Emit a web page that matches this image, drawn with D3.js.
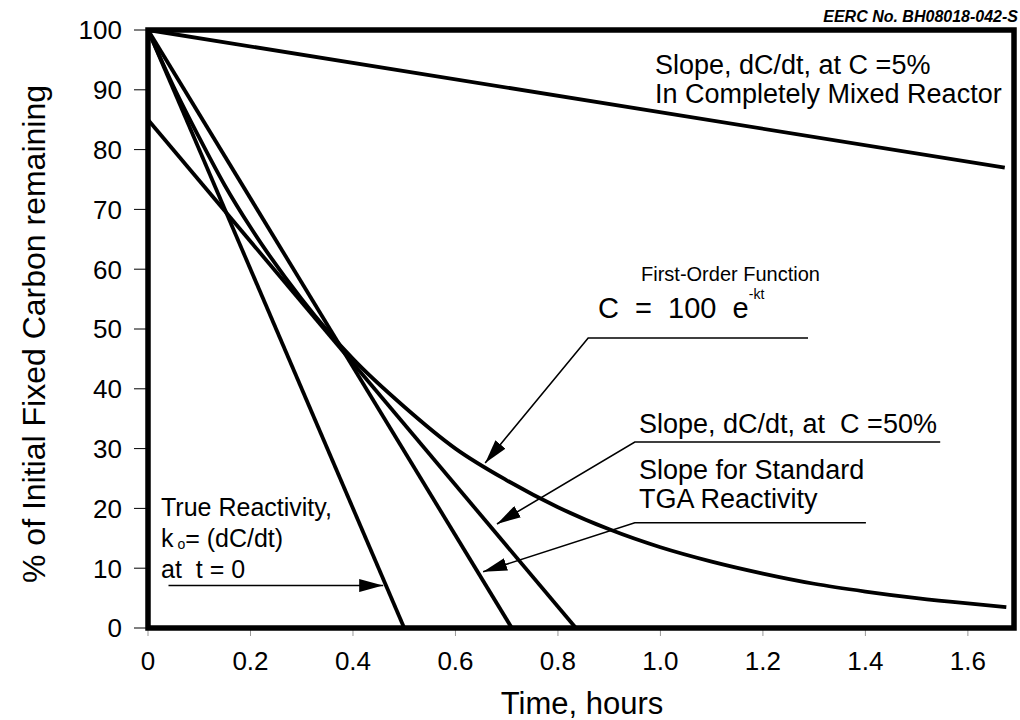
<!DOCTYPE html>
<html>
<head>
<meta charset="utf-8">
<script src="https://cdn.jsdelivr.net/npm/d3@7"></script>
<style>
  body { margin: 0; background: #fff; }
  svg { display: block; font-family: "Liberation Sans", Arial, sans-serif; }
</style>
</head>
<body>
<svg id="chart" width="1020" height="720"></svg>
<script>
// first-order curve
const curveTime = [0, 0.05, 0.1, 0.15, 0.2, 0.3, 0.4, 0.5, 0.6, 0.7, 0.8, 0.9, 1.0, 1.1, 1.2, 1.3, 1.4, 1.5, 1.6, 1.675];
const curveCarbon = [100, 90.5, 82, 74, 67, 55, 45, 37, 30, 24.7, 20.2, 16.5, 13.5, 11.1, 9.1, 7.4, 6.1, 5.0, 4.1, 3.5];

// straight slope lines
const trueTime = [0, 0.5], trueCarbon = [100, 0];
const tgaTime = [0, 0.71], tgaCarbon = [100, 0];
const slope50Time = [0, 0.835], slope50Carbon = [85, 0];
const slope5Time = [0, 1.672], slope5Carbon = [100, 77];

const xTicks = [0, 0.2, 0.4, 0.6, 0.8, 1.0, 1.2, 1.4, 1.6];
const xTickLabels = ['0', '0.2', '0.4', '0.6', '0.8', '1.0', '1.2', '1.4', '1.6'];
const yTicks = [0, 10, 20, 30, 40, 50, 60, 70, 80, 90, 100];

const svg = d3.select('#chart');

const x = d3.scaleLinear().domain([0, 1.69]).range([148, 1014]);
const y = d3.scaleLinear().domain([0, 100]).range([628, 30]);

// arrowhead
svg.append('defs').append('marker')
    .attr('id', 'arrow')
    .attr('markerUnits', 'userSpaceOnUse')
    .attr('viewBox', '0 0 24 13')
    .attr('refX', 24).attr('refY', 6.5)
    .attr('markerWidth', 24).attr('markerHeight', 13)
    .attr('orient', 'auto')
    .append('path')
    .attr('d', 'M0,0 L24,6.5 L0,13 Z')
    .attr('fill', '#000');

// y axis ticks + labels
const yAxis = svg.append('g');
yAxis.selectAll('line').data(yTicks).enter().append('line')
    .attr('x1', 134).attr('x2', 148)
    .attr('y1', d => y(d)).attr('y2', d => y(d))
    .attr('stroke', '#000').attr('stroke-width', 1);
yAxis.selectAll('text').data(yTicks).enter().append('text')
    .attr('x', 122).attr('y', d => y(d))
    .attr('dy', '0.36em')
    .attr('text-anchor', 'end')
    .attr('font-size', 26)
    .text(d => d);

// x axis ticks + labels
const xAxis = svg.append('g');
xAxis.selectAll('line').data(xTicks).enter().append('line')
    .attr('x1', d => x(d)).attr('x2', d => x(d))
    .attr('y1', 628).attr('y2', 636)
    .attr('stroke', '#999').attr('stroke-width', 1);
xAxis.selectAll('text').data(xTicks).enter().append('text')
    .attr('x', d => x(d)).attr('y', 670)
    .attr('text-anchor', 'middle')
    .attr('font-size', 26)
    .text((d, i) => xTickLabels[i]);

// data lines
const line = d3.line().x(d => x(d[0])).y(d => y(d[1]));
const series = [
    [slope5Time, slope5Carbon],
    [trueTime, trueCarbon],
    [tgaTime, tgaCarbon],
    [slope50Time, slope50Carbon],
    [curveTime, curveCarbon]
];
series.forEach(([ts, cs], i) => {
    svg.append('path')
        .datum(ts.map((t, j) => [t, cs[j]]))
        .attr('d', i === 4 ? line.curve(d3.curveMonotoneX) : line.curve(d3.curveLinear))
        .attr('fill', 'none')
        .attr('stroke', '#000')
        .attr('stroke-width', 3.8)
        .attr('stroke-linejoin', 'round');
});

// frame
svg.append('rect')
    .attr('x', x(0)).attr('y', y(100))
    .attr('width', x(1.69) - x(0)).attr('height', y(0) - y(100))
    .attr('fill', 'none').attr('stroke', '#000').attr('stroke-width', 5.5);

// leader lines with arrows (data coordinates)
const leaders = [
    [[0.04, 7.1], [0.459, 7.1]],
    [[1.288, 48.5], [0.859, 48.5], [0.658, 27.6]],
    [[1.546, 31.1], [0.95, 31.1], [0.681, 17.4]],
    [[1.401, 17.6], [0.95, 17.6], [0.654, 9.4]]
];
leaders.forEach(pts => {
    svg.append('path')
        .attr('d', d3.line().x(d => x(d[0])).y(d => y(d[1]))(pts))
        .attr('fill', 'none')
        .attr('stroke', '#000')
        .attr('stroke-width', 1.6)
        .attr('marker-end', 'url(#arrow)');
});

// annotation text
function label(tx, ty, size, str) {
    return svg.append('text').attr('x', tx).attr('y', ty)
        .attr('font-size', size).attr('xml:space', 'preserve').text(str);
}
label(655, 74, 27, 'Slope, dC/dt, at C =5%');
label(655, 103, 27, 'In Completely Mixed Reactor');
label(641, 281, 20, 'First-Order Function');
const eq = svg.append('text').attr('x', 598).attr('y', 318).attr('font-size', 29).attr('xml:space', 'preserve');
eq.append('tspan').text('C  =  100  e');
eq.append('tspan').attr('font-size', 14).attr('dy', -19).text('-kt');
label(639, 433, 27, 'Slope, dC/dt, at  C =50%');
label(639, 479, 27, 'Slope for Standard');
label(639, 508, 27, 'TGA Reactivity');
label(161, 516, 25, 'True Reactivity,');
const k0 = svg.append('text').attr('x', 161).attr('y', 547).attr('font-size', 25).attr('xml:space', 'preserve');
k0.append('tspan').text('k');
k0.append('tspan').attr('font-size', 14).attr('dy', 2).text(' o');
k0.append('tspan').attr('dy', -2).text('= (dC/dt)');
label(161, 578, 25, 'at  t = 0');

svg.append('text')
    .attr('x', 1018).attr('y', 22)
    .attr('text-anchor', 'end')
    .attr('font-size', 16)
    .attr('font-weight', 'bold')
    .attr('font-style', 'italic')
    .text('EERC No. BH08018-042-S');

// axis titles
svg.append('text')
    .attr('x', 582).attr('y', 714)
    .attr('text-anchor', 'middle')
    .attr('font-size', 31)
    .text('Time, hours');
svg.append('text')
    .attr('transform', 'translate(45,334) rotate(-90)')
    .attr('text-anchor', 'middle')
    .attr('font-size', 32)
    .text('% of Initial Fixed Carbon remaining');
</script>
</body>
</html>
